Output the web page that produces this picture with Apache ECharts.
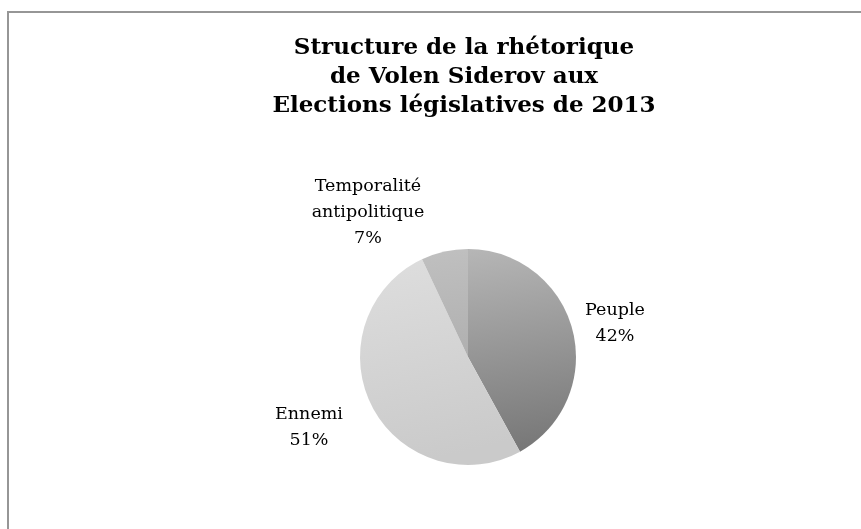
<!DOCTYPE html>
<html>
<head>
<meta charset="utf-8">
<style>
  html, body { margin: 0; padding: 0; background: #fff; }
  #chart { width: 861px; height: 529px; }
</style>
<script src="https://cdn.jsdelivr.net/npm/echarts@6/dist/echarts.min.js"></script>
</head>
<body>
<div id="chart"></div>
<script>
// Rhetoric structure shares (percent)
const categories = ['Peuple', 'Ennemi', 'Temporalité\nantipolitique'];
const shares = [42, 51, 7];
const titleLines = ['Structure de la rhétorique', 'de Volen Siderov aux', 'Elections législatives de 2013'];

// Grey shading per slice: [top colour, bottom colour]
const sliceShades = [
  ['#b6b6b6', '#787878'],
  ['#dedede', '#cacaca'],
  ['#c0c0c0', '#b0b0b0']
];
// Label anchor points (centre of each text block)
const labelSpots = [
  [615, 323],
  [309, 427],
  [368, 212]
];

const serif = '"DejaVu Serif", "Liberation Serif", serif';

const chart = echarts.init(document.getElementById('chart'), null, { renderer: 'canvas' });

chart.setOption({
  backgroundColor: '#ffffff',
  animation: false,
  title: {
    text: titleLines.join('\n'),
    left: 459,
    top: 29,
    textAlign: 'center',
    textStyle: {
      fontFamily: serif,
      fontWeight: 'bold',
      fontSize: 23,
      lineHeight: 29,
      color: '#000'
    }
  },
  graphic: [{
    type: 'rect',
    shape: { x: 8, y: 12, width: 900, height: 600 },
    style: { fill: 'none', stroke: '#969696', lineWidth: 2 },
    silent: true
  }],
  series: [{
    type: 'pie',
    center: [468, 357],
    radius: 108,
    startAngle: 90,
    clockwise: true,
    silent: true,
    label: {
      show: true,
      position: 'outside',
      formatter: p => p.name + '\n' + p.value + '%',
      fontFamily: serif,
      fontSize: 17.5,
      lineHeight: 26,
      color: '#000',
      align: 'center'
    },
    labelLine: { show: false },
    labelLayout: function (params) {
      const spot = labelSpots[params.dataIndex];
      return {
        x: spot[0],
        y: spot[1],
        align: 'center',
        verticalAlign: 'middle'
      };
    },
    itemStyle: { borderWidth: 0 },
    data: categories.map((name, i) => ({
      name: name,
      value: shares[i],
      itemStyle: {
        color: {
          type: 'linear', x: 0, y: 0, x2: 0.3, y2: 1,
          colorStops: [
            { offset: 0, color: sliceShades[i][0] },
            { offset: 1, color: sliceShades[i][1] }
          ]
        }
      }
    }))
  }]
});
</script>
</body>
</html>
